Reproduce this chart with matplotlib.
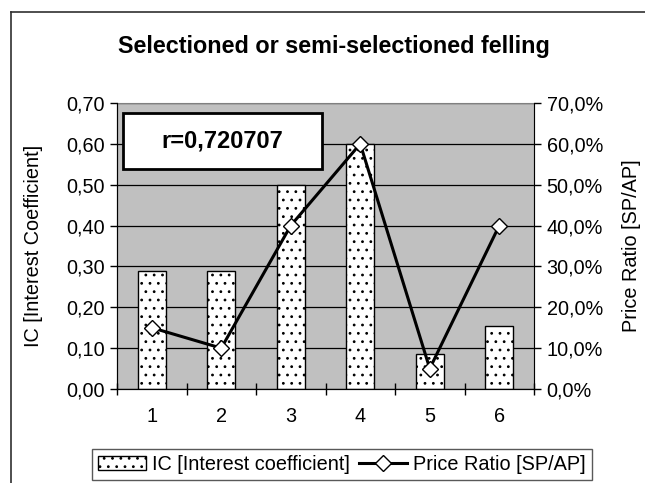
import numpy as np
import matplotlib.pyplot as plt
from matplotlib.lines import Line2D
from matplotlib.patches import Rectangle
from matplotlib.ticker import FixedLocator, FuncFormatter

plt.rcParams['font.family'] = ['Liberation Sans', 'DejaVu Sans']
plt.rcParams['hatch.linewidth'] = 0.8

categories = ['1', '2', '3', '4', '5', '6']
ic = [0.29, 0.29, 0.50, 0.60, 0.086, 0.155]
price_ratio = [0.15, 0.10, 0.40, 0.60, 0.05, 0.40]
r_text = 'r=0,720707'

W, H = 645, 483
fs = 14.3
fig = plt.figure(figsize=(W / 100, H / 100), dpi=100)

# outer chart border (left and top edges visible)
fig.add_artist(Line2D([11 / W, 1], [1 - 12 / H, 1 - 12 / H], color='#303030', lw=1.2))
fig.add_artist(Line2D([11 / W, 11 / W], [0, 1 - 12 / H], color='#303030', lw=1.2))

ax = fig.add_axes([117 / W, 1 - 389 / H, (534 - 117) / W, (389 - 103) / H])
ax.set_facecolor('#C0C0C0')
x = np.arange(1, len(categories) + 1)

ax.set_axisbelow(True)
ax.yaxis.grid(True, color='black', lw=0.9)
bars = ax.bar(x, ic, width=0.4, color='white', edgecolor='black', lw=1.0,
              hatch='..', label='IC [Interest coefficient]', zorder=2)

ax.set_xlim(0.5, 6.5)
ax.set_ylim(0, 0.70)
ax.set_yticks(np.arange(0, 0.71, 0.1))
ax.yaxis.set_major_formatter(FuncFormatter(lambda v, p: f'{v:.2f}'.replace('.', ',')))
ax.xaxis.set_major_locator(FixedLocator(np.arange(0.5, 6.6, 1)))
ax.xaxis.set_major_formatter(FuncFormatter(lambda v, p: ''))
ax.xaxis.set_minor_locator(FixedLocator(x))
ax.xaxis.set_minor_formatter(FuncFormatter(lambda v, p: categories[int(round(v)) - 1]))
ax.tick_params(axis='x', which='major', direction='inout', length=9, width=1)
ax.tick_params(axis='x', which='minor', length=0, pad=13, labelsize=fs)
ax.tick_params(axis='y', direction='out', length=5, width=1, labelsize=fs, pad=4)
for s in ['top', 'right']:
    ax.spines[s].set_color('#808080')
ax.spines['left'].set_color('black')
ax.spines['bottom'].set_color('black')
ax.set_ylabel('IC [Interest Coefficient]', fontsize=fs)
ax.yaxis.set_label_coords((43 - 117) / 417, 0.5)

ax2 = ax.twinx()
line, = ax2.plot(x, price_ratio, color='black', lw=2.2, marker='D', ms=8,
                 mfc='white', mec='black', mew=1.0, label='Price Ratio [SP/AP]', zorder=3)
ax2.set_ylim(0, 0.70)
ax2.set_yticks(np.arange(0, 0.71, 0.1))
ax2.yaxis.set_major_formatter(FuncFormatter(lambda v, p: f'{v * 100:.1f}%'.replace('.', ',')))
ax2.tick_params(axis='y', direction='out', length=5, width=1, labelsize=fs, pad=4)
ax2.spines['right'].set_color('black')
ax2.spines['top'].set_visible(False)
ax2.set_ylabel('Price Ratio [SP/AP]', fontsize=fs)
ax2.yaxis.set_label_coords((622 - 117) / 417, 0.5)

fig.text(334 / W, 1 - 47 / H, 'Selectioned or semi-selectioned felling',
         ha='center', va='center', fontsize=16.8, fontweight='bold')

# correlation box
fig.add_artist(Rectangle((123 / W, 1 - 169 / H), (322 - 123) / W, (169 - 113) / H,
                         transform=fig.transFigure, fc='white', ec='black', lw=2, zorder=4))
fig.text(222 / W, 1 - 141 / H, r_text, ha='center', va='center',
         fontsize=17, fontweight='bold', zorder=6)

leg = fig.legend([bars, line], ['IC [Interest coefficient]', 'Price Ratio [SP/AP]'],
                 loc='lower left', bbox_to_anchor=(92 / W, 3 / H), ncol=2, fontsize=fs,
                 frameon=True, fancybox=False, edgecolor='#303030', borderpad=0.3,
                 handlelength=2.4, handletextpad=0.3, columnspacing=0.5, borderaxespad=0)
leg.get_frame().set_linewidth(1.0)

fig.savefig('out.png', dpi=100)
